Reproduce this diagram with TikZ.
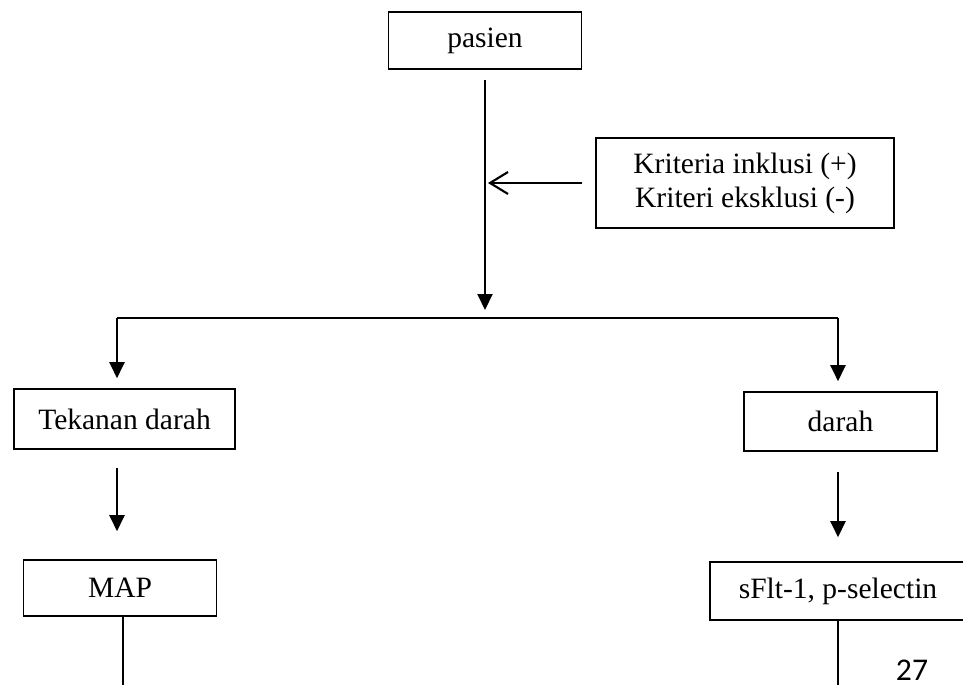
\documentclass[tikz,border=0pt]{standalone}
\usepackage{fontspec}
\setmainfont{Liberation Serif}
\newfontfamily\pagefont{Carlito}
\usetikzlibrary{arrows.meta,
                positioning
                }

\begin{document}
\begin{tikzpicture}[
        x = 0.02cm, y = -0.02cm,
        box/.style = {draw, line width=0.9pt, align=center, inner sep=0pt,
                      font=\fontsize{16.8}{19.4}\selectfont},
        link/.style = {line width=1.2pt},
        arr/.style = {link, -{Triangle[length=0.32cm, width=0.3cm]}},
        barb/.style = {link, -{Straight Barb[length=0.36cm, width=0.44cm]}}
    ]
    \useasboundingbox (0,0) rectangle (963,685);
    \node (pasien) [box, minimum width=3.86cm, minimum height=1.14cm] at (485,40.5) {pasien};
    \node (krit)   [box, minimum width=5.96cm, minimum height=1.8cm]  at (745,183)
        {Kriteria inklusi (+)\\Kriteri eksklusi (-)};
    \node (tekanan) [box, minimum width=4.42cm, minimum height=1.2cm] at (124.5,419) {Tekanan darah};
    \node (map)     [box, minimum width=3.86cm, minimum height=1.12cm] at (120,588) {MAP};
    \node (darah)   [box, minimum width=3.86cm, minimum height=1.18cm] at (840.5,421.5) {darah};
    \node (sflt)    [box, minimum width=5.12cm, minimum height=1.16cm] at (838,591) {sFlt-1, p-selectin};
    \node (page) [font=\pagefont\fontsize{18}{21}\selectfont, inner sep=0pt] at (912,670) {27};

    \coordinate (split) at (485,318);
    \coordinate (tl) at (117,318);
    \coordinate (tr) at (838,318);
    \coordinate (mapend) at (123,685);
    \coordinate (sfltend) at (838,685);

    \draw[arr, shorten <=0.2cm, shorten >=0.16cm] (pasien) -- (split);
    \draw[barb, shorten <=0.26cm, shorten >=0.06cm] (krit.west) -- (krit.west -| pasien.south);
    \draw[link] (tl) -- (tr);
    \draw[arr, shorten >=0.2cm] (tl) -- (tl |- tekanan.north);
    \draw[arr, shorten >=0.2cm] (tr) -- (tr |- darah.north);
    \draw[arr, shorten <=0.36cm, shorten >=0.56cm] (tekanan.south -| tl) -- (tl |- map.north);
    \draw[arr, shorten <=0.4cm, shorten >=0.48cm] (darah.south -| tr) -- (tr |- sflt.north);
    \draw[link] (map.south -| mapend) -- (mapend);
    \draw[link] (sflt.south -| sfltend) -- (sfltend);
\end{tikzpicture}
\end{document}
